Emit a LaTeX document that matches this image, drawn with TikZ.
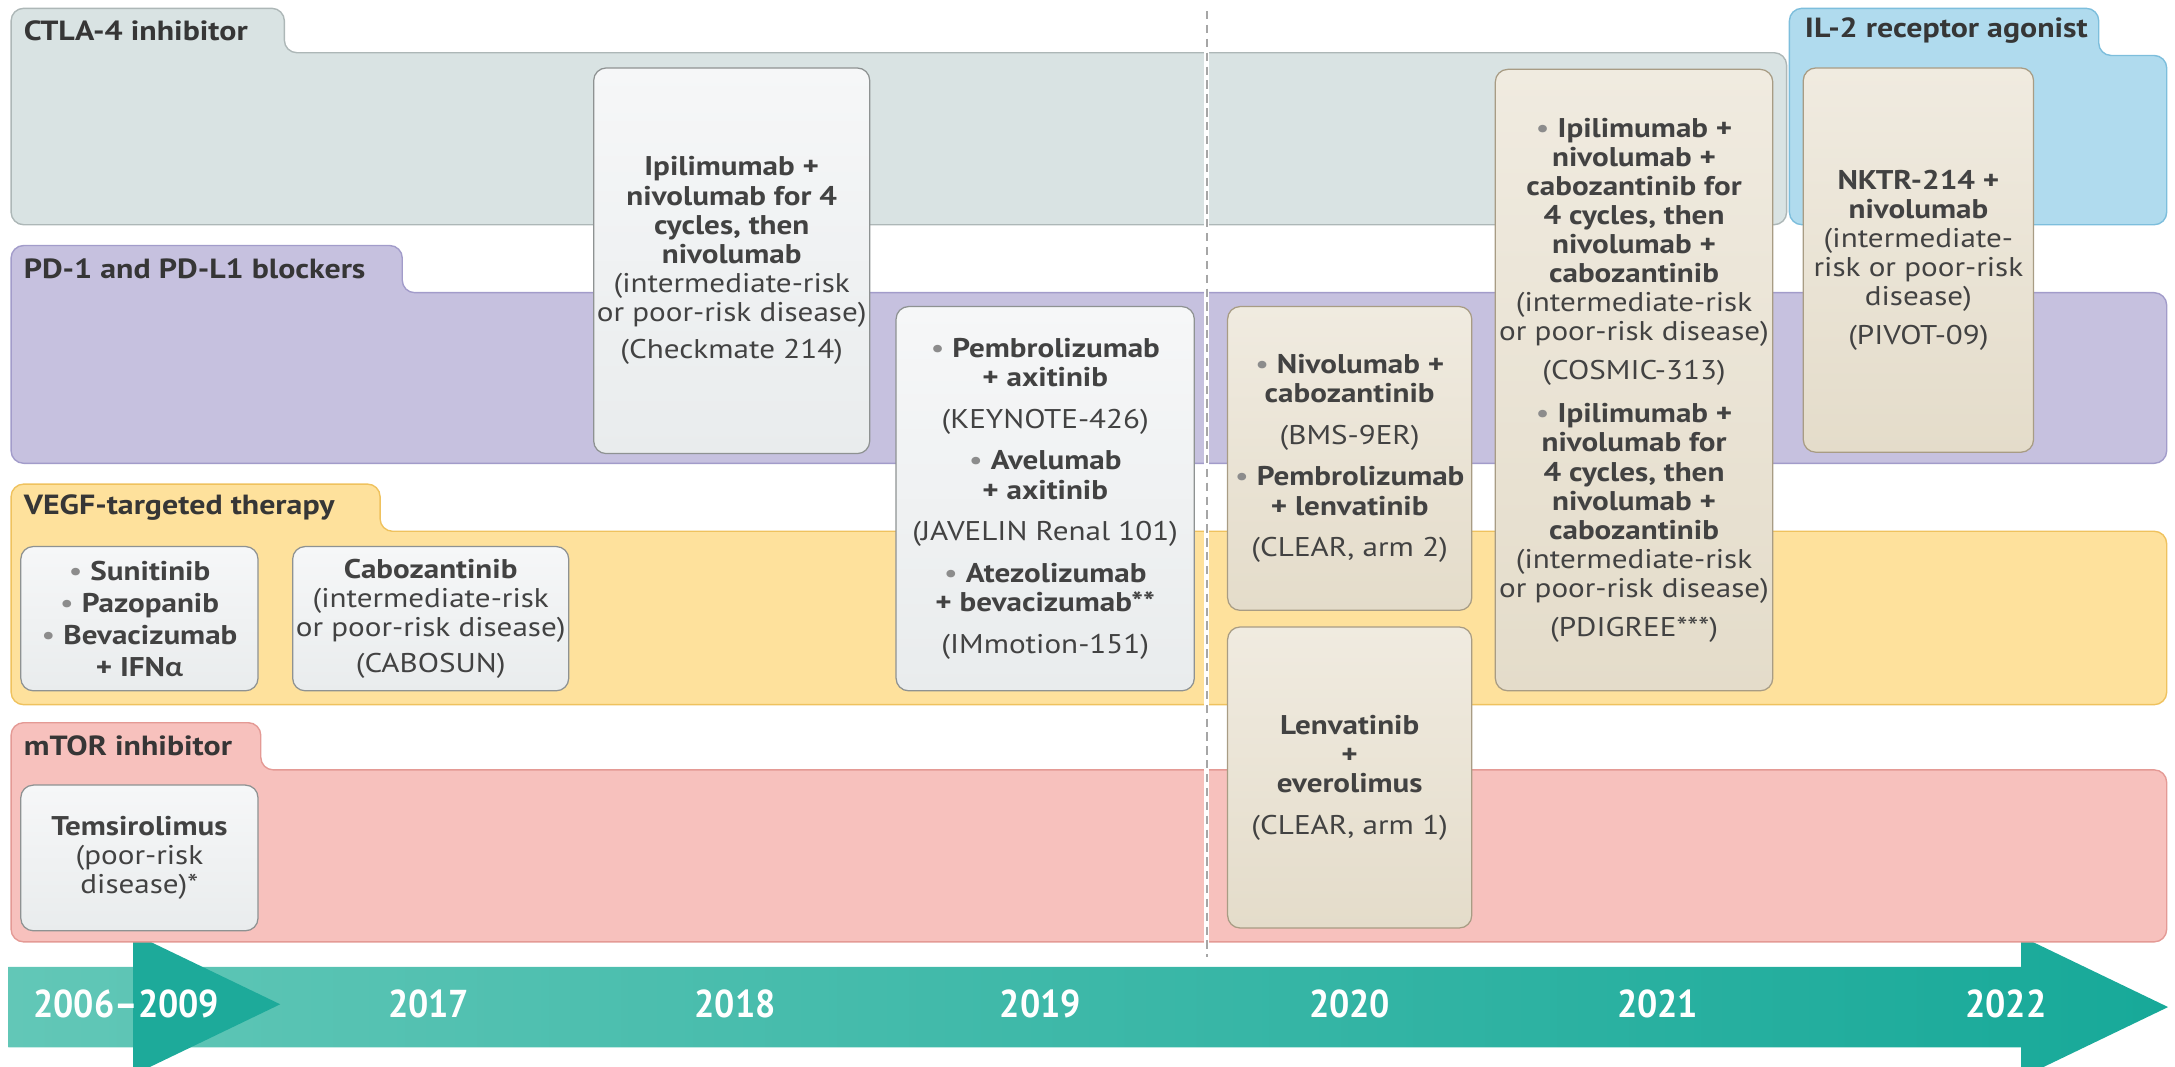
\documentclass[tikz,border=0pt]{standalone}
\usepackage{fontspec}
\setmainfont{PT Sans}[FakeStretch=1.15]
\newfontfamily\yearfont{PT Sans}[FakeStretch=0.92]
\newfontfamily\greekfont{Lato}[FakeStretch=1.1]

\definecolor{textgray}{HTML}{363636}
\definecolor{softgray}{HTML}{424242}
\definecolor{ctlafill}{HTML}{D9E3E3}
\definecolor{ctlaline}{HTML}{ADB7B7}
\definecolor{ilfill}{HTML}{B0DBEE}
\definecolor{illine}{HTML}{7DBEDC}
\definecolor{pdfill}{HTML}{C6C1DF}
\definecolor{pdline}{HTML}{A29CCA}
\definecolor{vegffill}{HTML}{FEE19C}
\definecolor{vegfline}{HTML}{EFC25E}
\definecolor{mtorfill}{HTML}{F7C1BD}
\definecolor{mtorline}{HTML}{E49A95}
\definecolor{boxtop}{HTML}{F6F7F8}
\definecolor{boxfill}{HTML}{E9ECED}
\definecolor{boxline}{HTML}{8E9292}
\definecolor{newtop}{HTML}{F0EBE0}
\definecolor{newfill}{HTML}{E4DCCA}
\definecolor{newline}{HTML}{A89C84}
\definecolor{barlight}{HTML}{62C7B7}
\definecolor{bardark}{HTML}{17A999}
\definecolor{chevron}{HTML}{1DAA9A}

\newcommand{\bul}{{\mdseries\color{black!45}\textbullet}\ }

\begin{document}
\begin{tikzpicture}[x=1pt,y=-1pt,
  band/.style={rounded corners=9pt,line width=1pt},
  drug node/.style={rectangle,rounded corners=9pt,draw=boxline,top color=boxtop,bottom color=boxfill,line width=0.9pt,
    align=center,text=softgray,font=\fontsize{19.5}{21}\selectfont,inner sep=0pt},
  new node/.style={drug node,draw=newline,top color=newtop,bottom color=newfill},
  band label/.style={anchor=west,text=textgray,font=\fontsize{20}{24}\selectfont\bfseries,inner sep=0pt},
  year node/.style={text=white,font=\yearfont\fontsize{28}{30}\selectfont\bfseries,inner sep=0pt}]

  \useasboundingbox (0,0) rectangle (1568,769);
  \clip (0,0) rectangle (1568,769);

  % timeline arrow
  \shade[left color=barlight, right color=bardark]
    (6,697) -- (1457,697) -- (1457,675) -- (1563,726) -- (1457,777) -- (1457,755) -- (6,755) -- cycle;
  \fill[chevron] (96,673) -- (202,724) -- (96,775) -- cycle;

  % class bands
  \draw[band, draw=ctlaline, fill=ctlafill] (8,162) -- (8,6) -- (205,6) -- (205,38) -- (1288,38) -- (1288,162) -- cycle;
  \draw[band, draw=illine, fill=ilfill] (1290,162) -- (1290,6) -- (1513,6) -- (1513,40) -- (1562,40) -- (1562,162) -- cycle;
  \draw[band, draw=pdline, fill=pdfill] (8,334) -- (8,177) -- (290,177) -- (290,211) -- (1562,211) -- (1562,334) -- cycle;
  \draw[band, draw=vegfline, fill=vegffill] (8,508) -- (8,349) -- (274,349) -- (274,383) -- (1562,383) -- (1562,508) -- cycle;
  \draw[band, draw=mtorline, fill=mtorfill] (8,679) -- (8,521) -- (188,521) -- (188,555) -- (1562,555) -- (1562,679) -- cycle;

  \node[band label] (t1) at (17,22) {CTLA-4 inhibitor};
  \node[band label] (t2) at (1301,22) {IL-2 receptor agonist};
  \node[band label] (t3) at (17,194) {PD-1 and PD-L1 blockers};
  \node[band label] (t4) at (17,366) {VEGF-targeted therapy};
  \node[band label] (t5) at (17,538) {mTOR inhibitor};

  % 2019 / 2020 divider
  \coordinate (dtop) at (870,8);
  \coordinate (dbot) at (870,690);
  \draw[white, line width=3.5pt] (dtop) -- (dbot);
  \draw[black!35, line width=1pt, dash pattern=on 6pt off 4pt] (dtop) -- (dbot);

  % approved regimens
  \node[drug node, minimum width=171, minimum height=104, font=\fontsize{19.5}{23}\selectfont] (1) at (100.5,446)
    {\textbf{\bul Sunitinib}\\ \textbf{\bul Pazopanib}\\ \textbf{\bul Bevacizumab}\\ \textbf{+ IFN{\greekfont α}}};
  \node[drug node, minimum width=199, minimum height=104] (2) at (310.5,446)
    {\textbf{Cabozantinib}\\ (intermediate-risk\\ or poor-risk disease)\\[5pt] (CABOSUN)};
  \node[drug node, minimum width=171, minimum height=105] (3) at (100.5,618.5)
    {\textbf{Temsirolimus}\\ (poor-risk\\ disease)*};
  \node[drug node, minimum width=199, minimum height=278] (4) at (527.5,188)
    {\textbf{Ipilimumab +}\\ \textbf{nivolumab for 4}\\ \textbf{cycles, then}\\ \textbf{nivolumab}\\
     (intermediate-risk\\ or poor-risk disease)\\[6pt] (Checkmate 214)};
  \node[drug node, minimum width=215, minimum height=277] (5) at (753.5,359.5)
    {\textbf{\bul Pembrolizumab}\\ \textbf{+ axitinib}\\[9pt] (KEYNOTE-426)\\[9pt]
     \textbf{\bul Avelumab}\\ \textbf{+ axitinib}\\[9pt] (JAVELIN Renal 101)\\[9pt]
     \textbf{\bul Atezolizumab}\\ \textbf{+ bevacizumab**}\\[9pt] (IMmotion-151)};

  % newer combinations
  \node[new node, minimum width=176, minimum height=219] (6) at (973,330.5)
    {\textbf{\bul Nivolumab +}\\ \textbf{cabozantinib}\\[9pt] (BMS-9ER)\\[9pt]
     \textbf{\bul Pembrolizumab}\\ \textbf{+ lenvatinib}\\[9pt] (CLEAR, arm 2)};
  \node[new node, minimum width=176, minimum height=217] (7) at (973,560.5)
    {\textbf{Lenvatinib}\\ \textbf{+}\\ \textbf{everolimus}\\[9pt] (CLEAR, arm 1)};
  \node[new node, minimum width=200, minimum height=448] (8) at (1178,274)
    {\textbf{\bul Ipilimumab +}\\ \textbf{nivolumab +}\\ \textbf{cabozantinib for}\\ \textbf{4 cycles, then}\\
     \textbf{nivolumab +}\\ \textbf{cabozantinib}\\ (intermediate-risk\\ or poor-risk disease)\\[7pt] (COSMIC-313)\\[10pt]
     \textbf{\bul Ipilimumab +}\\ \textbf{nivolumab for}\\ \textbf{4 cycles, then}\\ \textbf{nivolumab +}\\
     \textbf{cabozantinib}\\ (intermediate-risk\\ or poor-risk disease)\\[7pt] (PDIGREE***)};
  \node[new node, minimum width=166, minimum height=277] (9) at (1383,187.5)
    {\textbf{NKTR-214 +}\\ \textbf{nivolumab}\\ (intermediate-\\ risk or poor-risk\\ disease)\\[7pt] (PIVOT-09)};

  % years
  \node[year node] (y1) at (91,724) {2006–2009};
  \node[year node] (y2) at (309,724) {2017};
  \node[year node] (y3) at (530,724) {2018};
  \node[year node] (y4) at (750,724) {2019};
  \node[year node] (y5) at (973,724) {2020};
  \node[year node] (y6) at (1195,724) {2021};
  \node[year node] (y7) at (1446,724) {2022};
\end{tikzpicture}
\end{document}
